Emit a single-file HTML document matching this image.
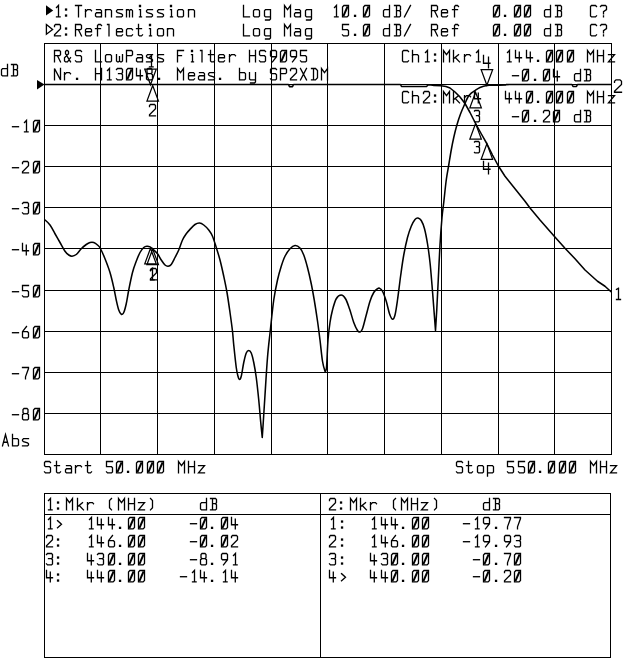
<!DOCTYPE html>
<html><head><meta charset="utf-8"><title>Network analyzer plot</title>
<style>
html,body{margin:0;padding:0;background:#fff;}
body{width:640px;height:659px;overflow:hidden;font-family:"Liberation Mono",monospace;}
svg{display:block;}
</style></head><body>
<svg width="640" height="659" viewBox="0 0 640 659">
<rect width="640" height="659" fill="#fff"/>
<path d="M44.5,43 V455 M100.5,43 V455 M157.5,43 V455 M214.5,43 V455 M271.5,43 V455 M327.5,43 V455 M384.5,43 V455 M441.5,43 V455 M498.5,43 V455 M554.5,43 V455 M611.5,43 V455 M44,43.5 H612 M44,84.5 H612 M44,125.5 H612 M44,166.5 H612 M44,207.5 H612 M44,248.5 H612 M44,290.5 H612 M44,331.5 H612 M44,372.5 H612 M44,413.5 H612 M44,454.5 H612" stroke="#000" stroke-width="1" fill="none" shape-rendering="crispEdges"/>
<path d="M44.5,493 V658 M610.5,493 V658 M320.5,493 V658 M44,493.5 H611 M44,514.5 H611 M44,657.5 H611" stroke="#000" stroke-width="1" fill="none" shape-rendering="crispEdges"/>
<path d="M44.5,219.5 C44.50,219.50 48.25,222.62 50,225 C51.75,227.38 53.33,230.83 55,233.75 C56.67,236.67 58.33,239.58 60,242.5 C61.67,245.42 63.54,249.17 65,251.25 C66.46,253.33 67.58,254.17 68.75,255 C69.92,255.83 70.75,256.33 72,256.25 C73.25,256.17 74.71,255.75 76.25,254.5 C77.79,253.25 79.58,250.42 81.25,248.75 C82.92,247.08 84.79,245.54 86.25,244.5 C87.71,243.46 88.75,242.83 90,242.5 C91.25,242.17 92.50,242.08 93.75,242.5 C95.00,242.92 96.42,244.04 97.5,245 C98.58,245.96 99.00,245.96 100.25,248.25 C101.50,250.54 103.38,254.71 105,258.75 C106.62,262.79 108.54,267.71 110,272.5 C111.46,277.29 112.71,282.92 113.75,287.5 C114.79,292.08 115.42,296.25 116.25,300 C117.08,303.75 117.92,307.62 118.75,310 C119.58,312.38 120.42,313.83 121.25,314.25 C122.08,314.67 122.92,314.25 123.75,312.5 C124.58,310.75 125.42,307.50 126.25,303.75 C127.08,300.00 127.71,295.21 128.75,290 C129.79,284.79 131.25,277.29 132.5,272.5 C133.75,267.71 135.00,264.58 136.25,261.25 C137.50,257.92 138.75,254.79 140,252.5 C141.25,250.21 142.60,248.54 143.75,247.5 C144.90,246.46 145.86,246.35 146.9,246.25 C147.94,246.15 148.97,246.38 150,246.9 C151.03,247.43 151.85,248.26 153.1,249.4 C154.35,250.54 156.14,251.98 157.5,253.75 C158.86,255.52 160.00,258.12 161.25,260 C162.50,261.88 163.86,263.96 165,265 C166.14,266.04 167.06,266.35 168.1,266.25 C169.14,266.15 170.10,265.86 171.25,264.4 C172.40,262.94 173.75,259.90 175,257.5 C176.25,255.10 177.50,252.92 178.75,250 C180.00,247.08 181.25,242.71 182.5,240 C183.75,237.29 185.00,235.52 186.25,233.75 C187.50,231.98 188.54,230.94 190,229.4 C191.46,227.86 193.42,225.57 195,224.5 C196.58,223.43 198.04,222.92 199.5,223 C200.96,223.08 202.21,223.83 203.75,225 C205.29,226.17 207.29,228.12 208.75,230 C210.21,231.88 211.25,233.33 212.5,236.25 C213.75,239.17 215.00,243.54 216.25,247.5 C217.50,251.46 218.75,255.21 220,260 C221.25,264.79 222.58,270.83 223.75,276.25 C224.92,281.67 225.96,286.46 227,292.5 C228.04,298.54 229.08,306.04 230,312.5 C230.92,318.96 231.88,325.83 232.5,331.25 C233.12,336.67 233.12,338.96 233.75,345 C234.38,351.04 235.54,362.29 236.25,367.5 C236.96,372.71 237.46,374.25 238,376.25 C238.54,378.25 238.96,379.50 239.5,379.5 C240.04,379.50 240.54,379.08 241.25,376.25 C241.96,373.42 242.92,366.38 243.75,362.5 C244.58,358.62 245.42,355.00 246.25,353 C247.08,351.00 247.92,350.50 248.75,350.5 C249.58,350.50 250.42,351.00 251.25,353 C252.08,355.00 252.92,358.42 253.75,362.5 C254.58,366.58 255.42,371.25 256.25,377.5 C257.08,383.75 258.00,392.50 258.75,400 C259.50,407.50 260.17,416.25 260.75,422.5 C261.33,428.75 262.25,437.50 262.25,437.5 C262.25,437.50 262.79,429.58 263.25,422.5 C263.71,415.42 264.29,405.83 265,395 C265.71,384.17 266.62,368.17 267.5,357.5 C268.38,346.83 269.21,340.58 270.25,331 C271.29,321.42 272.54,308.50 273.75,300 C274.96,291.50 276.25,285.62 277.5,280 C278.75,274.38 280.00,270.21 281.25,266.25 C282.50,262.29 283.54,259.17 285,256.25 C286.46,253.33 288.33,250.54 290,248.75 C291.67,246.96 293.33,245.62 295,245.5 C296.67,245.38 298.54,246.42 300,248 C301.46,249.58 302.50,251.75 303.75,255 C305.00,258.25 306.25,262.71 307.5,267.5 C308.75,272.29 310.12,278.33 311.25,283.75 C312.38,289.17 313.21,293.79 314.25,300 C315.29,306.21 316.54,314.33 317.5,321 C318.46,327.67 319.17,333.29 320,340 C320.83,346.71 321.67,356.04 322.5,361.25 C323.33,366.46 325.00,371.25 325,371.25 C325.00,371.25 326.00,372.71 326.5,367.5 C327.00,362.29 327.42,347.50 328,340 C328.58,332.50 329.25,327.50 330,322.5 C330.75,317.50 331.46,313.96 332.5,310 C333.54,306.04 334.79,301.25 336.25,298.75 C337.71,296.25 339.71,295.00 341.25,295 C342.79,295.00 344.12,296.46 345.5,298.75 C346.88,301.04 348.12,304.79 349.5,308.75 C350.88,312.71 352.42,318.88 353.75,322.5 C355.08,326.12 356.46,328.92 357.5,330.5 C358.54,332.08 359.17,332.29 360,332 C360.83,331.71 361.46,331.58 362.5,328.75 C363.54,325.92 365.00,319.58 366.25,315 C367.50,310.42 368.75,305.00 370,301.25 C371.25,297.50 372.50,294.58 373.75,292.5 C375.00,290.42 376.54,289.46 377.5,288.75 C378.46,288.04 378.67,287.83 379.5,288.25 C380.33,288.67 381.38,289.08 382.5,291.25 C383.62,293.42 385.08,297.50 386.25,301.25 C387.42,305.00 388.46,310.75 389.5,313.75 C390.54,316.75 391.58,319.04 392.5,319.25 C393.42,319.46 394.17,318.21 395,315 C395.83,311.79 396.54,306.67 397.5,300 C398.46,293.33 399.71,282.50 400.75,275 C401.79,267.50 402.62,261.25 403.75,255 C404.88,248.75 406.25,242.29 407.5,237.5 C408.75,232.71 410.00,229.25 411.25,226.25 C412.50,223.25 413.88,220.88 415,219.5 C416.12,218.12 416.96,217.83 418,218 C419.04,218.17 420.17,218.71 421.25,220.5 C422.33,222.29 423.46,224.88 424.5,228.75 C425.54,232.62 426.58,238.12 427.5,243.75 C428.42,249.38 429.25,255.62 430,262.5 C430.75,269.38 431.38,277.50 432,285 C432.62,292.50 433.17,299.92 433.75,307.5 C434.33,315.08 435.50,330.50 435.5,330.5 C435.50,330.50 436.29,318.42 436.75,310 C437.21,301.58 437.71,290.83 438.25,280 C438.79,269.17 439.38,255.42 440,245 C440.62,234.58 441.38,224.58 442,217.5 C442.62,210.42 443.04,208.75 443.75,202.5 C444.46,196.25 445.42,186.25 446.25,180 C447.08,173.75 447.92,170.00 448.75,165 C449.58,160.00 450.42,154.58 451.25,150 C452.08,145.42 452.81,141.67 453.75,137.5 C454.69,133.33 455.76,128.96 456.9,125 C458.04,121.04 459.25,117.33 460.6,113.75 C461.95,110.17 463.75,106.33 465,103.5 C466.25,100.67 467.06,98.48 468.1,96.75 C469.14,95.02 470.10,94.12 471.25,93.1 C472.40,92.07 473.54,91.53 475,90.6 C476.46,89.67 478.02,88.37 480,87.5 C481.98,86.63 484.57,85.77 486.9,85.4 C489.23,85.03 490.82,85.37 494,85.3 C497.18,85.23 506.00,85.00 506,85" stroke="#000" stroke-width="1.55" fill="none" stroke-linejoin="round"/>
<path d="M44.5,84.5 L288.5,84.5 L289.5,86.6 L292.5,86.6 L293.5,84.5 L400.5,84.5 L401.5,86.5 L426.5,86.5 L428,85 L431,85 L434,85.5 L441,85.7 L446,86.6 L450,88 L455,92 L460,97 L465,103.5 L470,112.5 L475.6,123.5 L481.25,133.75 L486.9,143.75 L492.5,155 L498.1,165.5 L505,176.25 L515,188.75 L525,201.25 L530,208 L540,220 L554.25,236.25 L565,248.25 L575,258.75 L585,270 L597.5,281.25 L605,286.25 L611.25,292" stroke="#000" stroke-width="1.55" fill="none" stroke-linejoin="round"/>
<path d="M506,84.6 L572,84.5 L573,86.4 L576.5,86.4 L577.5,84.5 L611.5,84.5" stroke="#000" stroke-width="1.55" fill="none" stroke-linejoin="round"/>
<path d="M150.5,84.8 L144.75,69.2 H156.25 Z M152.7,85.5 L146.95,101.1 H158.45 Z M475.6,123.5 L469.85,139.1 H481.35 Z M486.9,143.75 L481.15,159.35 H492.65 Z M150.5,248.3 L144.75,263.9 H156.25 Z M152.7,249 L146.95,264.6 H158.45 Z M475.6,92.3 L469.85,107.9 H481.35 Z M486.9,85.2 L481.15,69.6 H492.65 Z" stroke="#000" stroke-width="1.25" fill="none"/>
<path d="M37,80 L44.5,84.5 L37,89.5 Z" fill="#000"/>
<path d="M46,5.2 L53.2,10.4 L46,15.6 Z" fill="#000"/>
<path d="M46.4,24.6 L52.6,29.4 L46.4,34.2 Z" fill="none" stroke="#000" stroke-width="1.3"/>
<g stroke="#000" stroke-width="1.3" fill="none" stroke-linecap="square" stroke-linejoin="miter">
<path transform="translate(54.5,5.5) scale(1,1.036)" d="M2,2 L4,0 V11 M2,11 H5.6"/>
<path transform="translate(75.5,5.5) scale(1,1.036)" d="M0,0 H6 M3,0 V11"/>
<path transform="translate(85.5,5.5) scale(1,1.036)" d="M0,4 V11 M0,6 L2,4 H5 L6,5"/>
<path transform="translate(95.5,5.5) scale(1,1.036)" d="M1,4 H5 L6,5 V11 M6,7 H1 L0,8 V10 L1,11 H5 L6,10"/>
<path transform="translate(105.5,5.5) scale(1,1.036)" d="M0,4 V11 M0,5 L1,4 H5 L6,5 V11"/>
<path transform="translate(116.5,5.5) scale(1,1.036)" d="M6,4 H1 L0,5 V6 L1,7 L5,8 L6,9 V10 L5,11 H0"/>
<path transform="translate(126.5,5.5) scale(1,1.036)" d="M0,4 V11 M0,5 L1,4 H2 L3,5 V11 M3,5 L4,4 H5 L6,5 V11"/>
<path transform="translate(136.5,5.5) scale(1,1.036)" d="M4,0 V1 M3,0 V1 M3,4 H4 V11 M3,11 H5"/>
<path transform="translate(146.5,5.5) scale(1,1.036)" d="M6,4 H1 L0,5 V6 L1,7 L5,8 L6,9 V10 L5,11 H0"/>
<path transform="translate(157.5,5.5) scale(1,1.036)" d="M6,4 H1 L0,5 V6 L1,7 L5,8 L6,9 V10 L5,11 H0"/>
<path transform="translate(167.5,5.5) scale(1,1.036)" d="M4,0 V1 M3,0 V1 M3,4 H4 V11 M3,11 H5"/>
<path transform="translate(177.5,5.5) scale(1,1.036)" d="M1,4 H5 L6,5 V10 L5,11 H1 L0,10 V5 Z"/>
<path transform="translate(188.5,5.5) scale(1,1.036)" d="M0,4 V11 M0,5 L1,4 H5 L6,5 V11"/>
<path transform="translate(243.5,5.5) scale(1,1.036)" d="M0,0 V11 H6"/>
<path transform="translate(253.5,5.5) scale(1,1.036)" d="M1,4 H5 L6,5 V10 L5,11 H1 L0,10 V5 Z"/>
<path transform="translate(264.5,5.5) scale(1,1.036)" d="M6,4 H1 L0,5 V10 L1,11 H6 M6,4 V13 L5,14 H1"/>

<path transform="translate(284.5,5.5) scale(1,1.036)" d="M0,11 V0 L3,4 L6,0 V11"/>
<path transform="translate(294.5,5.5) scale(1,1.036)" d="M1,4 H5 L6,5 V11 M6,7 H1 L0,8 V10 L1,11 H5 L6,10"/>
<path transform="translate(305.5,5.5) scale(1,1.036)" d="M6,4 H1 L0,5 V10 L1,11 H6 M6,4 V13 L5,14 H1"/>
<path transform="translate(332.5,5.5) scale(1,1.036)" d="M2,2 L4,0 V11 M2,11 H5.6"/>
<path transform="translate(342.5,5.5) scale(1,1.036)" d="M1.4,0 H6 V9.6 L4.6,11 H0 V1.4 Z"/><path transform="translate(342.5,5.5) scale(1,1.036)" stroke-width="2" stroke-linecap="butt" d="M0.9,10.2 L5.1,0.8"/>
<path transform="translate(363.5,5.5) scale(1,1.036)" d="M1.4,0 H6 V9.6 L4.6,11 H0 V1.4 Z"/><path transform="translate(363.5,5.5) scale(1,1.036)" stroke-width="2" stroke-linecap="butt" d="M0.9,10.2 L5.1,0.8"/>

<path transform="translate(383.5,5.5) scale(1,1.036)" d="M6,0 V11 H1 L0,10 V5 L1,4 H6"/>
<path transform="translate(394.5,5.5) scale(1,1.036)" d="M2,0 V11 M0,11 H5 L6,10 V6 L5,5 H2 M5,5 L6,4 V1 L5,0 H0"/>
<path transform="translate(404.5,5.5) scale(1,1.036)" d="M0,11 L6,0"/>
<path transform="translate(431.5,5.5) scale(1,1.036)" d="M0,11 V0 H5 L6,1 V4 L5,5 H0 M3,5 L6,11"/>
<path transform="translate(441.5,5.5) scale(1,1.036)" d="M0,7 H6 V5 L5,4 H1 L0,5 V10 L1,11 H5 L6,10"/>
<path transform="translate(452.5,5.5) scale(1,1.036)" d="M6,1 L5,0 H3 L2,1 V11 M0,4 H5"/>
<path transform="translate(493.5,5.5) scale(1,1.036)" d="M1.4,0 H6 V9.6 L4.6,11 H0 V1.4 Z"/><path transform="translate(493.5,5.5) scale(1,1.036)" stroke-width="2" stroke-linecap="butt" d="M0.9,10.2 L5.1,0.8"/>
<path transform="translate(514.5,5.5) scale(1,1.036)" d="M1.4,0 H6 V9.6 L4.6,11 H0 V1.4 Z"/><path transform="translate(514.5,5.5) scale(1,1.036)" stroke-width="2" stroke-linecap="butt" d="M0.9,10.2 L5.1,0.8"/>
<path transform="translate(524.5,5.5) scale(1,1.036)" d="M1.4,0 H6 V9.6 L4.6,11 H0 V1.4 Z"/><path transform="translate(524.5,5.5) scale(1,1.036)" stroke-width="2" stroke-linecap="butt" d="M0.9,10.2 L5.1,0.8"/>

<path transform="translate(544.5,5.5) scale(1,1.036)" d="M6,0 V11 H1 L0,10 V5 L1,4 H6"/>
<path transform="translate(555.5,5.5) scale(1,1.036)" d="M2,0 V11 M0,11 H5 L6,10 V6 L5,5 H2 M5,5 L6,4 V1 L5,0 H0"/>
<path transform="translate(590.5,5.5) scale(1,1.036)" d="M6,1 L5,0 H1 L0,1 V10 L1,11 H5 L6,10"/>
<path transform="translate(600.5,5.5) scale(1,1.036)" d="M0,1 L1,0 H5 L6,1 V4 L3,6 V8 M3,10 V11"/>
<path transform="translate(54.5,24.5) scale(1,1.036)" d="M0,2 V1 L1,0 H5 L6,1 V4 L0,10 V11 H6"/>
<path transform="translate(75.5,24.5) scale(1,1.036)" d="M0,11 V0 H5 L6,1 V4 L5,5 H0 M3,5 L6,11"/>
<path transform="translate(85.5,24.5) scale(1,1.036)" d="M0,7 H6 V5 L5,4 H1 L0,5 V10 L1,11 H5 L6,10"/>
<path transform="translate(95.5,24.5) scale(1,1.036)" d="M6,1 L5,0 H3 L2,1 V11 M0,4 H5"/>
<path transform="translate(105.5,24.5) scale(1,1.036)" d="M2,0 H3.5 V11"/>
<path transform="translate(116.5,24.5) scale(1,1.036)" d="M0,7 H6 V5 L5,4 H1 L0,5 V10 L1,11 H5 L6,10"/>
<path transform="translate(126.5,24.5) scale(1,1.036)" d="M6,5 L5,4 H1 L0,5 V10 L1,11 H5 L6,10"/>
<path transform="translate(136.5,24.5) scale(1,1.036)" d="M2,0 V10 L3,11 H5 L6,10 M0,4 H5"/>
<path transform="translate(146.5,24.5) scale(1,1.036)" d="M4,0 V1 M3,0 V1 M3,4 H4 V11 M3,11 H5"/>
<path transform="translate(157.5,24.5) scale(1,1.036)" d="M1,4 H5 L6,5 V10 L5,11 H1 L0,10 V5 Z"/>
<path transform="translate(167.5,24.5) scale(1,1.036)" d="M0,4 V11 M0,5 L1,4 H5 L6,5 V11"/>
<path transform="translate(243.5,24.5) scale(1,1.036)" d="M0,0 V11 H6"/>
<path transform="translate(253.5,24.5) scale(1,1.036)" d="M1,4 H5 L6,5 V10 L5,11 H1 L0,10 V5 Z"/>
<path transform="translate(264.5,24.5) scale(1,1.036)" d="M6,4 H1 L0,5 V10 L1,11 H6 M6,4 V13 L5,14 H1"/>

<path transform="translate(284.5,24.5) scale(1,1.036)" d="M0,11 V0 L3,4 L6,0 V11"/>
<path transform="translate(294.5,24.5) scale(1,1.036)" d="M1,4 H5 L6,5 V11 M6,7 H1 L0,8 V10 L1,11 H5 L6,10"/>
<path transform="translate(305.5,24.5) scale(1,1.036)" d="M6,4 H1 L0,5 V10 L1,11 H6 M6,4 V13 L5,14 H1"/>

<path transform="translate(342.5,24.5) scale(1,1.036)" d="M6,0 H0 V5 H5 L6,6 V10 L5,11 H1 L0,10"/>
<path transform="translate(363.5,24.5) scale(1,1.036)" d="M1.4,0 H6 V9.6 L4.6,11 H0 V1.4 Z"/><path transform="translate(363.5,24.5) scale(1,1.036)" stroke-width="2" stroke-linecap="butt" d="M0.9,10.2 L5.1,0.8"/>

<path transform="translate(383.5,24.5) scale(1,1.036)" d="M6,0 V11 H1 L0,10 V5 L1,4 H6"/>
<path transform="translate(394.5,24.5) scale(1,1.036)" d="M2,0 V11 M0,11 H5 L6,10 V6 L5,5 H2 M5,5 L6,4 V1 L5,0 H0"/>
<path transform="translate(404.5,24.5) scale(1,1.036)" d="M0,11 L6,0"/>
<path transform="translate(431.5,24.5) scale(1,1.036)" d="M0,11 V0 H5 L6,1 V4 L5,5 H0 M3,5 L6,11"/>
<path transform="translate(441.5,24.5) scale(1,1.036)" d="M0,7 H6 V5 L5,4 H1 L0,5 V10 L1,11 H5 L6,10"/>
<path transform="translate(452.5,24.5) scale(1,1.036)" d="M6,1 L5,0 H3 L2,1 V11 M0,4 H5"/>
<path transform="translate(493.5,24.5) scale(1,1.036)" d="M1.4,0 H6 V9.6 L4.6,11 H0 V1.4 Z"/><path transform="translate(493.5,24.5) scale(1,1.036)" stroke-width="2" stroke-linecap="butt" d="M0.9,10.2 L5.1,0.8"/>
<path transform="translate(514.5,24.5) scale(1,1.036)" d="M1.4,0 H6 V9.6 L4.6,11 H0 V1.4 Z"/><path transform="translate(514.5,24.5) scale(1,1.036)" stroke-width="2" stroke-linecap="butt" d="M0.9,10.2 L5.1,0.8"/>
<path transform="translate(524.5,24.5) scale(1,1.036)" d="M1.4,0 H6 V9.6 L4.6,11 H0 V1.4 Z"/><path transform="translate(524.5,24.5) scale(1,1.036)" stroke-width="2" stroke-linecap="butt" d="M0.9,10.2 L5.1,0.8"/>

<path transform="translate(544.5,24.5) scale(1,1.036)" d="M6,0 V11 H1 L0,10 V5 L1,4 H6"/>
<path transform="translate(555.5,24.5) scale(1,1.036)" d="M2,0 V11 M0,11 H5 L6,10 V6 L5,5 H2 M5,5 L6,4 V1 L5,0 H0"/>
<path transform="translate(590.5,24.5) scale(1,1.036)" d="M6,1 L5,0 H1 L0,1 V10 L1,11 H5 L6,10"/>
<path transform="translate(600.5,24.5) scale(1,1.036)" d="M0,1 L1,0 H5 L6,1 V4 L3,6 V8 M3,10 V11"/>
<path transform="translate(54.5,50.5) scale(1,1.036)" d="M0,11 V0 H5 L6,1 V4 L5,5 H0 M3,5 L6,11"/>
<path transform="translate(64.5,50.5) scale(1,1.036)" d="M6,11 L1,3 V1 L2,0 H3 L4,1 V3 L0,7 V10 L1,11 H3 L6,7"/>
<path transform="translate(75.5,50.5) scale(1,1.036)" d="M6,1 L5,0 H1 L0,1 V4 L1,5 H5 L6,6 V10 L5,11 H1 L0,10"/>

<path transform="translate(95.5,50.5) scale(1,1.036)" d="M0,0 V11 H6"/>
<path transform="translate(105.5,50.5) scale(1,1.036)" d="M1,4 H5 L6,5 V10 L5,11 H1 L0,10 V5 Z"/>
<path transform="translate(116.5,50.5) scale(1,1.036)" d="M0,4 V10 L1,11 H2 L3,10 V6 M3,10 L4,11 H5 L6,10 V4"/>
<path transform="translate(126.5,50.5) scale(1,1.036)" d="M0,11 V0 H5 L6,1 V4 L5,5 H0"/>
<path transform="translate(136.5,50.5) scale(1,1.036)" d="M1,4 H5 L6,5 V11 M6,7 H1 L0,8 V10 L1,11 H5 L6,10"/>
<path transform="translate(146.5,50.5) scale(1,1.036)" d="M6,4 H1 L0,5 V6 L1,7 L5,8 L6,9 V10 L5,11 H0"/>
<path transform="translate(157.5,50.5) scale(1,1.036)" d="M6,4 H1 L0,5 V6 L1,7 L5,8 L6,9 V10 L5,11 H0"/>

<path transform="translate(177.5,50.5) scale(1,1.036)" d="M6,0 H0 V11 M0,5 H4"/>
<path transform="translate(188.5,50.5) scale(1,1.036)" d="M4,0 V1 M3,0 V1 M3,4 H4 V11 M3,11 H5"/>
<path transform="translate(198.5,50.5) scale(1,1.036)" d="M2,0 H3.5 V11"/>
<path transform="translate(208.5,50.5) scale(1,1.036)" d="M2,0 V10 L3,11 H5 L6,10 M0,4 H5"/>
<path transform="translate(218.5,50.5) scale(1,1.036)" d="M0,7 H6 V5 L5,4 H1 L0,5 V10 L1,11 H5 L6,10"/>
<path transform="translate(229.5,50.5) scale(1,1.036)" d="M0,4 V11 M0,6 L2,4 H5 L6,5"/>

<path transform="translate(249.5,50.5) scale(1,1.036)" d="M0,0 V11 M6,0 V11 M0,5 H6"/>
<path transform="translate(259.5,50.5) scale(1,1.036)" d="M6,1 L5,0 H1 L0,1 V4 L1,5 H5 L6,6 V10 L5,11 H1 L0,10"/>
<path transform="translate(270.5,50.5) scale(1,1.036)" d="M5,6 H1 L0,5 V1 L1,0 H5 L6,1 V6 L2,11"/>
<path transform="translate(280.5,50.5) scale(1,1.036)" d="M1.4,0 H6 V9.6 L4.6,11 H0 V1.4 Z"/><path transform="translate(280.5,50.5) scale(1,1.036)" stroke-width="2" stroke-linecap="butt" d="M0.9,10.2 L5.1,0.8"/>
<path transform="translate(290.5,50.5) scale(1,1.036)" d="M5,6 H1 L0,5 V1 L1,0 H5 L6,1 V6 L2,11"/>
<path transform="translate(300.5,50.5) scale(1,1.036)" d="M6,0 H0 V5 H5 L6,6 V10 L5,11 H1 L0,10"/>
<path transform="translate(54.5,68.5) scale(1,1.036)" d="M0,11 V0 L6,11 V0"/>
<path transform="translate(64.5,68.5) scale(1,1.036)" d="M0,4 V11 M0,6 L2,4 H5 L6,5"/>

<path transform="translate(95.5,68.5) scale(1,1.036)" d="M0,0 V11 M6,0 V11 M0,5 H6"/>
<path transform="translate(105.5,68.5) scale(1,1.036)" d="M2,2 L4,0 V11 M2,11 H5.6"/>
<path transform="translate(116.5,68.5) scale(1,1.036)" d="M0,1 L1,0 H5 L6,1 V4 L5,5 H2 M5,5 L6,6 V10 L5,11 H1 L0,10"/>
<path transform="translate(126.5,68.5) scale(1,1.036)" d="M1.4,0 H6 V9.6 L4.6,11 H0 V1.4 Z"/><path transform="translate(126.5,68.5) scale(1,1.036)" stroke-width="2" stroke-linecap="butt" d="M0.9,10.2 L5.1,0.8"/>
<path transform="translate(136.5,68.5) scale(1,1.036)" d="M0,0 V7 H6 M3.8,1.5 V11"/>
<path transform="translate(146.5,68.5) scale(1,1.036)" d="M1.5,0 H4.5 L5.5,1 V4 L4.5,5 H1.5 L0.5,4 V1 Z M1.5,5 L0,6 V10 L1,11 H5 L6,10 V6 L4.5,5"/>

<path transform="translate(177.5,68.5) scale(1,1.036)" d="M0,11 V0 L3,4 L6,0 V11"/>
<path transform="translate(188.5,68.5) scale(1,1.036)" d="M0,7 H6 V5 L5,4 H1 L0,5 V10 L1,11 H5 L6,10"/>
<path transform="translate(198.5,68.5) scale(1,1.036)" d="M1,4 H5 L6,5 V11 M6,7 H1 L0,8 V10 L1,11 H5 L6,10"/>
<path transform="translate(208.5,68.5) scale(1,1.036)" d="M6,4 H1 L0,5 V6 L1,7 L5,8 L6,9 V10 L5,11 H0"/>

<path transform="translate(239.5,68.5) scale(1,1.036)" d="M0,0 V11 H5 L6,10 V5 L5,4 H0"/>
<path transform="translate(249.5,68.5) scale(1,1.036)" d="M0,4 V10 L1,11 H6 M6,4 V13 L5,14 H1"/>

<path transform="translate(270.5,68.5) scale(1,1.036)" d="M6,1 L5,0 H1 L0,1 V4 L1,5 H5 L6,6 V10 L5,11 H1 L0,10"/>
<path transform="translate(280.5,68.5) scale(1,1.036)" d="M0,11 V0 H5 L6,1 V4 L5,5 H0"/>
<path transform="translate(290.5,68.5) scale(1,1.036)" d="M0,2 V1 L1,0 H5 L6,1 V4 L0,10 V11 H6"/>
<path transform="translate(300.5,68.5) scale(1,1.036)" d="M0,0 L6,11 M6,0 L0,11"/>
<path transform="translate(311.5,68.5) scale(1,1.036)" d="M2,0 V11 M0,11 H4 L6,9 V2 L4,0 H0"/>
<path transform="translate(321.5,68.5) scale(1,1.036)" d="M0,11 V0 L3,4 L6,0 V11"/>
<path transform="translate(402.5,50.5) scale(1,1.036)" d="M6,1 L5,0 H1 L0,1 V10 L1,11 H5 L6,10"/>
<path transform="translate(412.5,50.5) scale(1,1.036)" d="M0,0 V11 M0,5 L1,4 H5 L6,5 V11"/>
<path transform="translate(423.5,50.5) scale(1,1.036)" d="M2,2 L4,0 V11 M2,11 H5.6"/>
<path transform="translate(443.5,50.5) scale(1,1.036)" d="M0,11 V0 L3,4 L6,0 V11"/>
<path transform="translate(453.5,50.5) scale(1,1.036)" d="M0,0 V11 M5,4 L0,8 M2,7 L6,11"/>
<path transform="translate(464.5,50.5) scale(1,1.036)" d="M0,4 V11 M0,6 L2,4 H5 L6,5"/>
<path transform="translate(474.5,50.5) scale(1,1.036)" d="M2,2 L4,0 V11 M2,11 H5.6"/>
<path transform="translate(505.5,50.5) scale(1,1.036)" d="M2,2 L4,0 V11 M2,11 H5.6"/>
<path transform="translate(515.5,50.5) scale(1,1.036)" d="M0,0 V7 H6 M3.8,1.5 V11"/>
<path transform="translate(526.5,50.5) scale(1,1.036)" d="M0,0 V7 H6 M3.8,1.5 V11"/>
<path transform="translate(546.5,50.5) scale(1,1.036)" d="M1.4,0 H6 V9.6 L4.6,11 H0 V1.4 Z"/><path transform="translate(546.5,50.5) scale(1,1.036)" stroke-width="2" stroke-linecap="butt" d="M0.9,10.2 L5.1,0.8"/>
<path transform="translate(556.5,50.5) scale(1,1.036)" d="M1.4,0 H6 V9.6 L4.6,11 H0 V1.4 Z"/><path transform="translate(556.5,50.5) scale(1,1.036)" stroke-width="2" stroke-linecap="butt" d="M0.9,10.2 L5.1,0.8"/>
<path transform="translate(567.5,50.5) scale(1,1.036)" d="M1.4,0 H6 V9.6 L4.6,11 H0 V1.4 Z"/><path transform="translate(567.5,50.5) scale(1,1.036)" stroke-width="2" stroke-linecap="butt" d="M0.9,10.2 L5.1,0.8"/>

<path transform="translate(587.5,50.5) scale(1,1.036)" d="M0,11 V0 L3,4 L6,0 V11"/>
<path transform="translate(597.5,50.5) scale(1,1.036)" d="M0,0 V11 M6,0 V11 M0,5 H6"/>
<path transform="translate(608.5,50.5) scale(1,1.036)" d="M0,4 H6 L0,11 H6"/>
<path transform="translate(512.5,69.5) scale(1,1.036)" d="M0,6 H6"/>
<path transform="translate(522.5,69.5) scale(1,1.036)" d="M1.4,0 H6 V9.6 L4.6,11 H0 V1.4 Z"/><path transform="translate(522.5,69.5) scale(1,1.036)" stroke-width="2" stroke-linecap="butt" d="M0.9,10.2 L5.1,0.8"/>
<path transform="translate(543.5,69.5) scale(1,1.036)" d="M1.4,0 H6 V9.6 L4.6,11 H0 V1.4 Z"/><path transform="translate(543.5,69.5) scale(1,1.036)" stroke-width="2" stroke-linecap="butt" d="M0.9,10.2 L5.1,0.8"/>
<path transform="translate(553.5,69.5) scale(1,1.036)" d="M0,0 V7 H6 M3.8,1.5 V11"/>

<path transform="translate(574.5,69.5) scale(1,1.036)" d="M6,0 V11 H1 L0,10 V5 L1,4 H6"/>
<path transform="translate(584.5,69.5) scale(1,1.036)" d="M2,0 V11 M0,11 H5 L6,10 V6 L5,5 H2 M5,5 L6,4 V1 L5,0 H0"/>
<path transform="translate(402.5,91.5) scale(1,1.036)" d="M6,1 L5,0 H1 L0,1 V10 L1,11 H5 L6,10"/>
<path transform="translate(412.5,91.5) scale(1,1.036)" d="M0,0 V11 M0,5 L1,4 H5 L6,5 V11"/>
<path transform="translate(423.5,91.5) scale(1,1.036)" d="M0,2 V1 L1,0 H5 L6,1 V4 L0,10 V11 H6"/>
<path transform="translate(443.5,91.5) scale(1,1.036)" d="M0,11 V0 L3,4 L6,0 V11"/>
<path transform="translate(453.5,91.5) scale(1,1.036)" d="M0,0 V11 M5,4 L0,8 M2,7 L6,11"/>
<path transform="translate(464.5,91.5) scale(1,1.036)" d="M0,4 V11 M0,6 L2,4 H5 L6,5"/>
<path transform="translate(474.5,91.5) scale(1,1.036)" d="M0,0 V7 H6 M3.8,1.5 V11"/>
<path transform="translate(505.5,91.5) scale(1,1.036)" d="M0,0 V7 H6 M3.8,1.5 V11"/>
<path transform="translate(515.5,91.5) scale(1,1.036)" d="M0,0 V7 H6 M3.8,1.5 V11"/>
<path transform="translate(526.5,91.5) scale(1,1.036)" d="M1.4,0 H6 V9.6 L4.6,11 H0 V1.4 Z"/><path transform="translate(526.5,91.5) scale(1,1.036)" stroke-width="2" stroke-linecap="butt" d="M0.9,10.2 L5.1,0.8"/>
<path transform="translate(546.5,91.5) scale(1,1.036)" d="M1.4,0 H6 V9.6 L4.6,11 H0 V1.4 Z"/><path transform="translate(546.5,91.5) scale(1,1.036)" stroke-width="2" stroke-linecap="butt" d="M0.9,10.2 L5.1,0.8"/>
<path transform="translate(556.5,91.5) scale(1,1.036)" d="M1.4,0 H6 V9.6 L4.6,11 H0 V1.4 Z"/><path transform="translate(556.5,91.5) scale(1,1.036)" stroke-width="2" stroke-linecap="butt" d="M0.9,10.2 L5.1,0.8"/>
<path transform="translate(567.5,91.5) scale(1,1.036)" d="M1.4,0 H6 V9.6 L4.6,11 H0 V1.4 Z"/><path transform="translate(567.5,91.5) scale(1,1.036)" stroke-width="2" stroke-linecap="butt" d="M0.9,10.2 L5.1,0.8"/>

<path transform="translate(587.5,91.5) scale(1,1.036)" d="M0,11 V0 L3,4 L6,0 V11"/>
<path transform="translate(597.5,91.5) scale(1,1.036)" d="M0,0 V11 M6,0 V11 M0,5 H6"/>
<path transform="translate(608.5,91.5) scale(1,1.036)" d="M0,4 H6 L0,11 H6"/>
<path transform="translate(512.5,110.5) scale(1,1.036)" d="M0,6 H6"/>
<path transform="translate(522.5,110.5) scale(1,1.036)" d="M1.4,0 H6 V9.6 L4.6,11 H0 V1.4 Z"/><path transform="translate(522.5,110.5) scale(1,1.036)" stroke-width="2" stroke-linecap="butt" d="M0.9,10.2 L5.1,0.8"/>
<path transform="translate(543.5,110.5) scale(1,1.036)" d="M0,2 V1 L1,0 H5 L6,1 V4 L0,10 V11 H6"/>
<path transform="translate(553.5,110.5) scale(1,1.036)" d="M1.4,0 H6 V9.6 L4.6,11 H0 V1.4 Z"/><path transform="translate(553.5,110.5) scale(1,1.036)" stroke-width="2" stroke-linecap="butt" d="M0.9,10.2 L5.1,0.8"/>

<path transform="translate(574.5,110.5) scale(1,1.036)" d="M6,0 V11 H1 L0,10 V5 L1,4 H6"/>
<path transform="translate(584.5,110.5) scale(1,1.036)" d="M2,0 V11 M0,11 H5 L6,10 V6 L5,5 H2 M5,5 L6,4 V1 L5,0 H0"/>
<path transform="translate(1.5,64.5) scale(1,1.036)" d="M6,0 V11 H1 L0,10 V5 L1,4 H6"/>
<path transform="translate(11.5,64.5) scale(1,1.036)" d="M2,0 V11 M0,11 H5 L6,10 V6 L5,5 H2 M5,5 L6,4 V1 L5,0 H0"/>
<path transform="translate(12.5,120.5) scale(1,1.036)" d="M0,6 H6"/>
<path transform="translate(22.5,120.5) scale(1,1.036)" d="M2,2 L4,0 V11 M2,11 H5.6"/>
<path transform="translate(33.5,120.5) scale(1,1.036)" d="M1.4,0 H6 V9.6 L4.6,11 H0 V1.4 Z"/><path transform="translate(33.5,120.5) scale(1,1.036)" stroke-width="2" stroke-linecap="butt" d="M0.9,10.2 L5.1,0.8"/>
<path transform="translate(12.5,161.5) scale(1,1.036)" d="M0,6 H6"/>
<path transform="translate(22.5,161.5) scale(1,1.036)" d="M0,2 V1 L1,0 H5 L6,1 V4 L0,10 V11 H6"/>
<path transform="translate(33.5,161.5) scale(1,1.036)" d="M1.4,0 H6 V9.6 L4.6,11 H0 V1.4 Z"/><path transform="translate(33.5,161.5) scale(1,1.036)" stroke-width="2" stroke-linecap="butt" d="M0.9,10.2 L5.1,0.8"/>
<path transform="translate(12.5,202.5) scale(1,1.036)" d="M0,6 H6"/>
<path transform="translate(22.5,202.5) scale(1,1.036)" d="M0,1 L1,0 H5 L6,1 V4 L5,5 H2 M5,5 L6,6 V10 L5,11 H1 L0,10"/>
<path transform="translate(33.5,202.5) scale(1,1.036)" d="M1.4,0 H6 V9.6 L4.6,11 H0 V1.4 Z"/><path transform="translate(33.5,202.5) scale(1,1.036)" stroke-width="2" stroke-linecap="butt" d="M0.9,10.2 L5.1,0.8"/>
<path transform="translate(12.5,243.5) scale(1,1.036)" d="M0,6 H6"/>
<path transform="translate(22.5,243.5) scale(1,1.036)" d="M0,0 V7 H6 M3.8,1.5 V11"/>
<path transform="translate(33.5,243.5) scale(1,1.036)" d="M1.4,0 H6 V9.6 L4.6,11 H0 V1.4 Z"/><path transform="translate(33.5,243.5) scale(1,1.036)" stroke-width="2" stroke-linecap="butt" d="M0.9,10.2 L5.1,0.8"/>
<path transform="translate(12.5,285.5) scale(1,1.036)" d="M0,6 H6"/>
<path transform="translate(22.5,285.5) scale(1,1.036)" d="M6,0 H0 V5 H5 L6,6 V10 L5,11 H1 L0,10"/>
<path transform="translate(33.5,285.5) scale(1,1.036)" d="M1.4,0 H6 V9.6 L4.6,11 H0 V1.4 Z"/><path transform="translate(33.5,285.5) scale(1,1.036)" stroke-width="2" stroke-linecap="butt" d="M0.9,10.2 L5.1,0.8"/>
<path transform="translate(12.5,326.5) scale(1,1.036)" d="M0,6 H6"/>
<path transform="translate(22.5,326.5) scale(1,1.036)" d="M4,0 L0,5 V10 L1,11 H5 L6,10 V6 L5,5 H1"/>
<path transform="translate(33.5,326.5) scale(1,1.036)" d="M1.4,0 H6 V9.6 L4.6,11 H0 V1.4 Z"/><path transform="translate(33.5,326.5) scale(1,1.036)" stroke-width="2" stroke-linecap="butt" d="M0.9,10.2 L5.1,0.8"/>
<path transform="translate(12.5,367.5) scale(1,1.036)" d="M0,6 H6"/>
<path transform="translate(22.5,367.5) scale(1,1.036)" d="M0,0 H6 V1 L3,9 V11"/>
<path transform="translate(33.5,367.5) scale(1,1.036)" d="M1.4,0 H6 V9.6 L4.6,11 H0 V1.4 Z"/><path transform="translate(33.5,367.5) scale(1,1.036)" stroke-width="2" stroke-linecap="butt" d="M0.9,10.2 L5.1,0.8"/>
<path transform="translate(12.5,408.5) scale(1,1.036)" d="M0,6 H6"/>
<path transform="translate(22.5,408.5) scale(1,1.036)" d="M1.5,0 H4.5 L5.5,1 V4 L4.5,5 H1.5 L0.5,4 V1 Z M1.5,5 L0,6 V10 L1,11 H5 L6,10 V6 L4.5,5"/>
<path transform="translate(33.5,408.5) scale(1,1.036)" d="M1.4,0 H6 V9.6 L4.6,11 H0 V1.4 Z"/><path transform="translate(33.5,408.5) scale(1,1.036)" stroke-width="2" stroke-linecap="butt" d="M0.9,10.2 L5.1,0.8"/>
<path transform="translate(2.5,434.5) scale(1,1.036)" d="M0,11 L3,0 L6,11 M1.2,7.5 H4.8"/>
<path transform="translate(12.5,434.5) scale(1,1.036)" d="M0,0 V11 H5 L6,10 V5 L5,4 H0"/>
<path transform="translate(22.5,434.5) scale(1,1.036)" d="M6,4 H1 L0,5 V6 L1,7 L5,8 L6,9 V10 L5,11 H0"/>
<path transform="translate(44.5,461.5) scale(1,1.036)" d="M6,1 L5,0 H1 L0,1 V4 L1,5 H5 L6,6 V10 L5,11 H1 L0,10"/>
<path transform="translate(54.5,461.5) scale(1,1.036)" d="M2,0 V10 L3,11 H5 L6,10 M0,4 H5"/>
<path transform="translate(65.5,461.5) scale(1,1.036)" d="M1,4 H5 L6,5 V11 M6,7 H1 L0,8 V10 L1,11 H5 L6,10"/>
<path transform="translate(75.5,461.5) scale(1,1.036)" d="M0,4 V11 M0,6 L2,4 H5 L6,5"/>
<path transform="translate(85.5,461.5) scale(1,1.036)" d="M2,0 V10 L3,11 H5 L6,10 M0,4 H5"/>

<path transform="translate(106.5,461.5) scale(1,1.036)" d="M6,0 H0 V5 H5 L6,6 V10 L5,11 H1 L0,10"/>
<path transform="translate(116.5,461.5) scale(1,1.036)" d="M1.4,0 H6 V9.6 L4.6,11 H0 V1.4 Z"/><path transform="translate(116.5,461.5) scale(1,1.036)" stroke-width="2" stroke-linecap="butt" d="M0.9,10.2 L5.1,0.8"/>
<path transform="translate(136.5,461.5) scale(1,1.036)" d="M1.4,0 H6 V9.6 L4.6,11 H0 V1.4 Z"/><path transform="translate(136.5,461.5) scale(1,1.036)" stroke-width="2" stroke-linecap="butt" d="M0.9,10.2 L5.1,0.8"/>
<path transform="translate(147.5,461.5) scale(1,1.036)" d="M1.4,0 H6 V9.6 L4.6,11 H0 V1.4 Z"/><path transform="translate(147.5,461.5) scale(1,1.036)" stroke-width="2" stroke-linecap="butt" d="M0.9,10.2 L5.1,0.8"/>
<path transform="translate(157.5,461.5) scale(1,1.036)" d="M1.4,0 H6 V9.6 L4.6,11 H0 V1.4 Z"/><path transform="translate(157.5,461.5) scale(1,1.036)" stroke-width="2" stroke-linecap="butt" d="M0.9,10.2 L5.1,0.8"/>

<path transform="translate(178.5,461.5) scale(1,1.036)" d="M0,11 V0 L3,4 L6,0 V11"/>
<path transform="translate(188.5,461.5) scale(1,1.036)" d="M0,0 V11 M6,0 V11 M0,5 H6"/>
<path transform="translate(198.5,461.5) scale(1,1.036)" d="M0,4 H6 L0,11 H6"/>
<path transform="translate(456.5,461.5) scale(1,1.036)" d="M6,1 L5,0 H1 L0,1 V4 L1,5 H5 L6,6 V10 L5,11 H1 L0,10"/>
<path transform="translate(466.5,461.5) scale(1,1.036)" d="M2,0 V10 L3,11 H5 L6,10 M0,4 H5"/>
<path transform="translate(477.5,461.5) scale(1,1.036)" d="M1,4 H5 L6,5 V10 L5,11 H1 L0,10 V5 Z"/>
<path transform="translate(487.5,461.5) scale(1,1.036)" d="M0,4 V14 M0,4 H5 L6,5 V10 L5,11 H0"/>

<path transform="translate(507.5,461.5) scale(1,1.036)" d="M6,0 H0 V5 H5 L6,6 V10 L5,11 H1 L0,10"/>
<path transform="translate(518.5,461.5) scale(1,1.036)" d="M6,0 H0 V5 H5 L6,6 V10 L5,11 H1 L0,10"/>
<path transform="translate(528.5,461.5) scale(1,1.036)" d="M1.4,0 H6 V9.6 L4.6,11 H0 V1.4 Z"/><path transform="translate(528.5,461.5) scale(1,1.036)" stroke-width="2" stroke-linecap="butt" d="M0.9,10.2 L5.1,0.8"/>
<path transform="translate(548.5,461.5) scale(1,1.036)" d="M1.4,0 H6 V9.6 L4.6,11 H0 V1.4 Z"/><path transform="translate(548.5,461.5) scale(1,1.036)" stroke-width="2" stroke-linecap="butt" d="M0.9,10.2 L5.1,0.8"/>
<path transform="translate(559.5,461.5) scale(1,1.036)" d="M1.4,0 H6 V9.6 L4.6,11 H0 V1.4 Z"/><path transform="translate(559.5,461.5) scale(1,1.036)" stroke-width="2" stroke-linecap="butt" d="M0.9,10.2 L5.1,0.8"/>
<path transform="translate(569.5,461.5) scale(1,1.036)" d="M1.4,0 H6 V9.6 L4.6,11 H0 V1.4 Z"/><path transform="translate(569.5,461.5) scale(1,1.036)" stroke-width="2" stroke-linecap="butt" d="M0.9,10.2 L5.1,0.8"/>

<path transform="translate(590.5,461.5) scale(1,1.036)" d="M0,11 V0 L3,4 L6,0 V11"/>
<path transform="translate(600.5,461.5) scale(1,1.036)" d="M0,0 V11 M6,0 V11 M0,5 H6"/>
<path transform="translate(610.5,461.5) scale(1,1.036)" d="M0,4 H6 L0,11 H6"/>
<path transform="translate(46.5,498.5) scale(1,1.036)" d="M2,2 L4,0 V11 M2,11 H5.6"/>
<path transform="translate(66.5,498.5) scale(1,1.036)" d="M0,11 V0 L3,4 L6,0 V11"/>
<path transform="translate(77.5,498.5) scale(1,1.036)" d="M0,0 V11 M5,4 L0,8 M2,7 L6,11"/>
<path transform="translate(87.5,498.5) scale(1,1.036)" d="M0,4 V11 M0,6 L2,4 H5 L6,5"/>

<path transform="translate(107.5,498.5) scale(1,1.036)" d="M4,0 L2,2 V9 L4,11"/>
<path transform="translate(118.5,498.5) scale(1,1.036)" d="M0,11 V0 L3,4 L6,0 V11"/>
<path transform="translate(128.5,498.5) scale(1,1.036)" d="M0,0 V11 M6,0 V11 M0,5 H6"/>
<path transform="translate(138.5,498.5) scale(1,1.036)" d="M0,4 H6 L0,11 H6"/>
<path transform="translate(148.5,498.5) scale(1,1.036)" d="M2,0 L4,2 V9 L2,11"/>




<path transform="translate(200.5,498.5) scale(1,1.036)" d="M6,0 V11 H1 L0,10 V5 L1,4 H6"/>
<path transform="translate(210.5,498.5) scale(1,1.036)" d="M2,0 V11 M0,11 H5 L6,10 V6 L5,5 H2 M5,5 L6,4 V1 L5,0 H0"/>
<path transform="translate(46.5,517.5) scale(1,1.036)" d="M2,2 L4,0 V11 M2,11 H5.6"/>
<path transform="translate(56.5,517.5) scale(1,1.036)" d="M1,3 L5,6.5 L1,10"/>


<path transform="translate(87.5,517.5) scale(1,1.036)" d="M2,2 L4,0 V11 M2,11 H5.6"/>
<path transform="translate(97.5,517.5) scale(1,1.036)" d="M0,0 V7 H6 M3.8,1.5 V11"/>
<path transform="translate(108.5,517.5) scale(1,1.036)" d="M0,0 V7 H6 M3.8,1.5 V11"/>
<path transform="translate(128.5,517.5) scale(1,1.036)" d="M1.4,0 H6 V9.6 L4.6,11 H0 V1.4 Z"/><path transform="translate(128.5,517.5) scale(1,1.036)" stroke-width="2" stroke-linecap="butt" d="M0.9,10.2 L5.1,0.8"/>
<path transform="translate(138.5,517.5) scale(1,1.036)" d="M1.4,0 H6 V9.6 L4.6,11 H0 V1.4 Z"/><path transform="translate(138.5,517.5) scale(1,1.036)" stroke-width="2" stroke-linecap="butt" d="M0.9,10.2 L5.1,0.8"/>




<path transform="translate(190.5,517.5) scale(1,1.036)" d="M0,6 H6"/>
<path transform="translate(200.5,517.5) scale(1,1.036)" d="M1.4,0 H6 V9.6 L4.6,11 H0 V1.4 Z"/><path transform="translate(200.5,517.5) scale(1,1.036)" stroke-width="2" stroke-linecap="butt" d="M0.9,10.2 L5.1,0.8"/>
<path transform="translate(221.5,517.5) scale(1,1.036)" d="M1.4,0 H6 V9.6 L4.6,11 H0 V1.4 Z"/><path transform="translate(221.5,517.5) scale(1,1.036)" stroke-width="2" stroke-linecap="butt" d="M0.9,10.2 L5.1,0.8"/>
<path transform="translate(231.5,517.5) scale(1,1.036)" d="M0,0 V7 H6 M3.8,1.5 V11"/>
<path transform="translate(46.5,535.5) scale(1,1.036)" d="M0,2 V1 L1,0 H5 L6,1 V4 L0,10 V11 H6"/>


<path transform="translate(87.5,535.5) scale(1,1.036)" d="M2,2 L4,0 V11 M2,11 H5.6"/>
<path transform="translate(97.5,535.5) scale(1,1.036)" d="M0,0 V7 H6 M3.8,1.5 V11"/>
<path transform="translate(108.5,535.5) scale(1,1.036)" d="M4,0 L0,5 V10 L1,11 H5 L6,10 V6 L5,5 H1"/>
<path transform="translate(128.5,535.5) scale(1,1.036)" d="M1.4,0 H6 V9.6 L4.6,11 H0 V1.4 Z"/><path transform="translate(128.5,535.5) scale(1,1.036)" stroke-width="2" stroke-linecap="butt" d="M0.9,10.2 L5.1,0.8"/>
<path transform="translate(138.5,535.5) scale(1,1.036)" d="M1.4,0 H6 V9.6 L4.6,11 H0 V1.4 Z"/><path transform="translate(138.5,535.5) scale(1,1.036)" stroke-width="2" stroke-linecap="butt" d="M0.9,10.2 L5.1,0.8"/>




<path transform="translate(190.5,535.5) scale(1,1.036)" d="M0,6 H6"/>
<path transform="translate(200.5,535.5) scale(1,1.036)" d="M1.4,0 H6 V9.6 L4.6,11 H0 V1.4 Z"/><path transform="translate(200.5,535.5) scale(1,1.036)" stroke-width="2" stroke-linecap="butt" d="M0.9,10.2 L5.1,0.8"/>
<path transform="translate(221.5,535.5) scale(1,1.036)" d="M1.4,0 H6 V9.6 L4.6,11 H0 V1.4 Z"/><path transform="translate(221.5,535.5) scale(1,1.036)" stroke-width="2" stroke-linecap="butt" d="M0.9,10.2 L5.1,0.8"/>
<path transform="translate(231.5,535.5) scale(1,1.036)" d="M0,2 V1 L1,0 H5 L6,1 V4 L0,10 V11 H6"/>
<path transform="translate(46.5,553.5) scale(1,1.036)" d="M0,1 L1,0 H5 L6,1 V4 L5,5 H2 M5,5 L6,6 V10 L5,11 H1 L0,10"/>


<path transform="translate(87.5,553.5) scale(1,1.036)" d="M0,0 V7 H6 M3.8,1.5 V11"/>
<path transform="translate(97.5,553.5) scale(1,1.036)" d="M0,1 L1,0 H5 L6,1 V4 L5,5 H2 M5,5 L6,6 V10 L5,11 H1 L0,10"/>
<path transform="translate(108.5,553.5) scale(1,1.036)" d="M1.4,0 H6 V9.6 L4.6,11 H0 V1.4 Z"/><path transform="translate(108.5,553.5) scale(1,1.036)" stroke-width="2" stroke-linecap="butt" d="M0.9,10.2 L5.1,0.8"/>
<path transform="translate(128.5,553.5) scale(1,1.036)" d="M1.4,0 H6 V9.6 L4.6,11 H0 V1.4 Z"/><path transform="translate(128.5,553.5) scale(1,1.036)" stroke-width="2" stroke-linecap="butt" d="M0.9,10.2 L5.1,0.8"/>
<path transform="translate(138.5,553.5) scale(1,1.036)" d="M1.4,0 H6 V9.6 L4.6,11 H0 V1.4 Z"/><path transform="translate(138.5,553.5) scale(1,1.036)" stroke-width="2" stroke-linecap="butt" d="M0.9,10.2 L5.1,0.8"/>




<path transform="translate(190.5,553.5) scale(1,1.036)" d="M0,6 H6"/>
<path transform="translate(200.5,553.5) scale(1,1.036)" d="M1.5,0 H4.5 L5.5,1 V4 L4.5,5 H1.5 L0.5,4 V1 Z M1.5,5 L0,6 V10 L1,11 H5 L6,10 V6 L4.5,5"/>
<path transform="translate(221.5,553.5) scale(1,1.036)" d="M5,6 H1 L0,5 V1 L1,0 H5 L6,1 V6 L2,11"/>
<path transform="translate(231.5,553.5) scale(1,1.036)" d="M2,2 L4,0 V11 M2,11 H5.6"/>
<path transform="translate(46.5,570.5) scale(1,1.036)" d="M0,0 V7 H6 M3.8,1.5 V11"/>


<path transform="translate(87.5,570.5) scale(1,1.036)" d="M0,0 V7 H6 M3.8,1.5 V11"/>
<path transform="translate(97.5,570.5) scale(1,1.036)" d="M0,0 V7 H6 M3.8,1.5 V11"/>
<path transform="translate(108.5,570.5) scale(1,1.036)" d="M1.4,0 H6 V9.6 L4.6,11 H0 V1.4 Z"/><path transform="translate(108.5,570.5) scale(1,1.036)" stroke-width="2" stroke-linecap="butt" d="M0.9,10.2 L5.1,0.8"/>
<path transform="translate(128.5,570.5) scale(1,1.036)" d="M1.4,0 H6 V9.6 L4.6,11 H0 V1.4 Z"/><path transform="translate(128.5,570.5) scale(1,1.036)" stroke-width="2" stroke-linecap="butt" d="M0.9,10.2 L5.1,0.8"/>
<path transform="translate(138.5,570.5) scale(1,1.036)" d="M1.4,0 H6 V9.6 L4.6,11 H0 V1.4 Z"/><path transform="translate(138.5,570.5) scale(1,1.036)" stroke-width="2" stroke-linecap="butt" d="M0.9,10.2 L5.1,0.8"/>



<path transform="translate(180.5,570.5) scale(1,1.036)" d="M0,6 H6"/>
<path transform="translate(190.5,570.5) scale(1,1.036)" d="M2,2 L4,0 V11 M2,11 H5.6"/>
<path transform="translate(200.5,570.5) scale(1,1.036)" d="M0,0 V7 H6 M3.8,1.5 V11"/>
<path transform="translate(221.5,570.5) scale(1,1.036)" d="M2,2 L4,0 V11 M2,11 H5.6"/>
<path transform="translate(231.5,570.5) scale(1,1.036)" d="M0,0 V7 H6 M3.8,1.5 V11"/>
<path transform="translate(329.5,498.5) scale(1,1.036)" d="M0,2 V1 L1,0 H5 L6,1 V4 L0,10 V11 H6"/>
<path transform="translate(350.5,498.5) scale(1,1.036)" d="M0,11 V0 L3,4 L6,0 V11"/>
<path transform="translate(360.5,498.5) scale(1,1.036)" d="M0,0 V11 M5,4 L0,8 M2,7 L6,11"/>
<path transform="translate(370.5,498.5) scale(1,1.036)" d="M0,4 V11 M0,6 L2,4 H5 L6,5"/>

<path transform="translate(391.5,498.5) scale(1,1.036)" d="M4,0 L2,2 V9 L4,11"/>
<path transform="translate(401.5,498.5) scale(1,1.036)" d="M0,11 V0 L3,4 L6,0 V11"/>
<path transform="translate(411.5,498.5) scale(1,1.036)" d="M0,0 V11 M6,0 V11 M0,5 H6"/>
<path transform="translate(421.5,498.5) scale(1,1.036)" d="M0,4 H6 L0,11 H6"/>
<path transform="translate(432.5,498.5) scale(1,1.036)" d="M2,0 L4,2 V9 L2,11"/>




<path transform="translate(483.5,498.5) scale(1,1.036)" d="M6,0 V11 H1 L0,10 V5 L1,4 H6"/>
<path transform="translate(493.5,498.5) scale(1,1.036)" d="M2,0 V11 M0,11 H5 L6,10 V6 L5,5 H2 M5,5 L6,4 V1 L5,0 H0"/>
<path transform="translate(329.5,517.5) scale(1,1.036)" d="M2,2 L4,0 V11 M2,11 H5.6"/>


<path transform="translate(370.5,517.5) scale(1,1.036)" d="M2,2 L4,0 V11 M2,11 H5.6"/>
<path transform="translate(381.5,517.5) scale(1,1.036)" d="M0,0 V7 H6 M3.8,1.5 V11"/>
<path transform="translate(391.5,517.5) scale(1,1.036)" d="M0,0 V7 H6 M3.8,1.5 V11"/>
<path transform="translate(412.5,517.5) scale(1,1.036)" d="M1.4,0 H6 V9.6 L4.6,11 H0 V1.4 Z"/><path transform="translate(412.5,517.5) scale(1,1.036)" stroke-width="2" stroke-linecap="butt" d="M0.9,10.2 L5.1,0.8"/>
<path transform="translate(422.5,517.5) scale(1,1.036)" d="M1.4,0 H6 V9.6 L4.6,11 H0 V1.4 Z"/><path transform="translate(422.5,517.5) scale(1,1.036)" stroke-width="2" stroke-linecap="butt" d="M0.9,10.2 L5.1,0.8"/>



<path transform="translate(463.5,517.5) scale(1,1.036)" d="M0,6 H6"/>
<path transform="translate(473.5,517.5) scale(1,1.036)" d="M2,2 L4,0 V11 M2,11 H5.6"/>
<path transform="translate(483.5,517.5) scale(1,1.036)" d="M5,6 H1 L0,5 V1 L1,0 H5 L6,1 V6 L2,11"/>
<path transform="translate(504.5,517.5) scale(1,1.036)" d="M0,0 H6 V1 L3,9 V11"/>
<path transform="translate(514.5,517.5) scale(1,1.036)" d="M0,0 H6 V1 L3,9 V11"/>
<path transform="translate(329.5,535.5) scale(1,1.036)" d="M0,2 V1 L1,0 H5 L6,1 V4 L0,10 V11 H6"/>


<path transform="translate(370.5,535.5) scale(1,1.036)" d="M2,2 L4,0 V11 M2,11 H5.6"/>
<path transform="translate(381.5,535.5) scale(1,1.036)" d="M0,0 V7 H6 M3.8,1.5 V11"/>
<path transform="translate(391.5,535.5) scale(1,1.036)" d="M4,0 L0,5 V10 L1,11 H5 L6,10 V6 L5,5 H1"/>
<path transform="translate(412.5,535.5) scale(1,1.036)" d="M1.4,0 H6 V9.6 L4.6,11 H0 V1.4 Z"/><path transform="translate(412.5,535.5) scale(1,1.036)" stroke-width="2" stroke-linecap="butt" d="M0.9,10.2 L5.1,0.8"/>
<path transform="translate(422.5,535.5) scale(1,1.036)" d="M1.4,0 H6 V9.6 L4.6,11 H0 V1.4 Z"/><path transform="translate(422.5,535.5) scale(1,1.036)" stroke-width="2" stroke-linecap="butt" d="M0.9,10.2 L5.1,0.8"/>



<path transform="translate(463.5,535.5) scale(1,1.036)" d="M0,6 H6"/>
<path transform="translate(473.5,535.5) scale(1,1.036)" d="M2,2 L4,0 V11 M2,11 H5.6"/>
<path transform="translate(483.5,535.5) scale(1,1.036)" d="M5,6 H1 L0,5 V1 L1,0 H5 L6,1 V6 L2,11"/>
<path transform="translate(504.5,535.5) scale(1,1.036)" d="M5,6 H1 L0,5 V1 L1,0 H5 L6,1 V6 L2,11"/>
<path transform="translate(514.5,535.5) scale(1,1.036)" d="M0,1 L1,0 H5 L6,1 V4 L5,5 H2 M5,5 L6,6 V10 L5,11 H1 L0,10"/>
<path transform="translate(329.5,553.5) scale(1,1.036)" d="M0,1 L1,0 H5 L6,1 V4 L5,5 H2 M5,5 L6,6 V10 L5,11 H1 L0,10"/>


<path transform="translate(370.5,553.5) scale(1,1.036)" d="M0,0 V7 H6 M3.8,1.5 V11"/>
<path transform="translate(381.5,553.5) scale(1,1.036)" d="M0,1 L1,0 H5 L6,1 V4 L5,5 H2 M5,5 L6,6 V10 L5,11 H1 L0,10"/>
<path transform="translate(391.5,553.5) scale(1,1.036)" d="M1.4,0 H6 V9.6 L4.6,11 H0 V1.4 Z"/><path transform="translate(391.5,553.5) scale(1,1.036)" stroke-width="2" stroke-linecap="butt" d="M0.9,10.2 L5.1,0.8"/>
<path transform="translate(412.5,553.5) scale(1,1.036)" d="M1.4,0 H6 V9.6 L4.6,11 H0 V1.4 Z"/><path transform="translate(412.5,553.5) scale(1,1.036)" stroke-width="2" stroke-linecap="butt" d="M0.9,10.2 L5.1,0.8"/>
<path transform="translate(422.5,553.5) scale(1,1.036)" d="M1.4,0 H6 V9.6 L4.6,11 H0 V1.4 Z"/><path transform="translate(422.5,553.5) scale(1,1.036)" stroke-width="2" stroke-linecap="butt" d="M0.9,10.2 L5.1,0.8"/>




<path transform="translate(473.5,553.5) scale(1,1.036)" d="M0,6 H6"/>
<path transform="translate(483.5,553.5) scale(1,1.036)" d="M1.4,0 H6 V9.6 L4.6,11 H0 V1.4 Z"/><path transform="translate(483.5,553.5) scale(1,1.036)" stroke-width="2" stroke-linecap="butt" d="M0.9,10.2 L5.1,0.8"/>
<path transform="translate(504.5,553.5) scale(1,1.036)" d="M0,0 H6 V1 L3,9 V11"/>
<path transform="translate(514.5,553.5) scale(1,1.036)" d="M1.4,0 H6 V9.6 L4.6,11 H0 V1.4 Z"/><path transform="translate(514.5,553.5) scale(1,1.036)" stroke-width="2" stroke-linecap="butt" d="M0.9,10.2 L5.1,0.8"/>
<path transform="translate(329.5,570.5) scale(1,1.036)" d="M0,0 V7 H6 M3.8,1.5 V11"/>
<path transform="translate(340.5,570.5) scale(1,1.036)" d="M1,3 L5,6.5 L1,10"/>


<path transform="translate(370.5,570.5) scale(1,1.036)" d="M0,0 V7 H6 M3.8,1.5 V11"/>
<path transform="translate(381.5,570.5) scale(1,1.036)" d="M0,0 V7 H6 M3.8,1.5 V11"/>
<path transform="translate(391.5,570.5) scale(1,1.036)" d="M1.4,0 H6 V9.6 L4.6,11 H0 V1.4 Z"/><path transform="translate(391.5,570.5) scale(1,1.036)" stroke-width="2" stroke-linecap="butt" d="M0.9,10.2 L5.1,0.8"/>
<path transform="translate(412.5,570.5) scale(1,1.036)" d="M1.4,0 H6 V9.6 L4.6,11 H0 V1.4 Z"/><path transform="translate(412.5,570.5) scale(1,1.036)" stroke-width="2" stroke-linecap="butt" d="M0.9,10.2 L5.1,0.8"/>
<path transform="translate(422.5,570.5) scale(1,1.036)" d="M1.4,0 H6 V9.6 L4.6,11 H0 V1.4 Z"/><path transform="translate(422.5,570.5) scale(1,1.036)" stroke-width="2" stroke-linecap="butt" d="M0.9,10.2 L5.1,0.8"/>




<path transform="translate(473.5,570.5) scale(1,1.036)" d="M0,6 H6"/>
<path transform="translate(483.5,570.5) scale(1,1.036)" d="M1.4,0 H6 V9.6 L4.6,11 H0 V1.4 Z"/><path transform="translate(483.5,570.5) scale(1,1.036)" stroke-width="2" stroke-linecap="butt" d="M0.9,10.2 L5.1,0.8"/>
<path transform="translate(504.5,570.5) scale(1,1.036)" d="M0,2 V1 L1,0 H5 L6,1 V4 L0,10 V11 H6"/>
<path transform="translate(514.5,570.5) scale(1,1.036)" d="M1.4,0 H6 V9.6 L4.6,11 H0 V1.4 Z"/><path transform="translate(514.5,570.5) scale(1,1.036)" stroke-width="2" stroke-linecap="butt" d="M0.9,10.2 L5.1,0.8"/>
<path transform="translate(614.5,79.8) scale(1,1.036)" d="M0,2.5 V1.5 L1.5,0 H5.5 L7,1.5 V4.5 L0,11 V12 H7"/>
<path transform="translate(616.5,288.1) scale(1,1.036)" d="M0,1.3 L2,0.3 M2,0 V11 M0,11 H4"/>
<path transform="translate(147.5,55.5) scale(1,1.036)" d="M2,2 L4,0 V11 M2,11 H5.6"/>
<path transform="translate(149.5,104.5) scale(1,1.036)" d="M0,2 V1 L1,0 H5 L6,1 V4 L0,10 V11 H6"/>
<path transform="translate(474.5,141.5) scale(1,1.036)" d="M0,0.5 L0.5,0 H4 L5,1 V4 L4,5 H2 M4,5 L5,6 V10 L4,11 H0.5 L0,10.5"/>
<path transform="translate(483.5,161.5) scale(1,1.036)" d="M0,0 V7.5 H6.5 M5,1.7 V12"/>
<path transform="translate(148.5,268.5) scale(1,1.036)" d="M2,2 L4,0 V11 M2,11 H5.6"/>
<path transform="translate(150.5,268.5) scale(1,1.036)" d="M0,2 V1 L1,0 H5 L6,1 V4 L0,10 V11 H6"/>
<path transform="translate(474.5,110.5) scale(1,1.036)" d="M0,0.5 L0.5,0 H4 L5,1 V4 L4,5 H2 M4,5 L5,6 V10 L4,11 H0.5 L0,10.5"/>
<path transform="translate(483.5,55.5) scale(1,1.036)" d="M0,0 V7.5 H6.5 M5,1.7 V12"/>
</g>
<g fill="#000" stroke="none"><rect x="64.9" y="8.4" width="2.3" height="2.3"/><rect x="64.9" y="14.4" width="2.3" height="2.3"/><rect x="353.9" y="14.7" width="2.3" height="2.3"/><rect x="503.9" y="14.7" width="2.3" height="2.3"/><rect x="64.9" y="27.4" width="2.3" height="2.3"/><rect x="64.9" y="33.4" width="2.3" height="2.3"/><rect x="353.9" y="33.7" width="2.3" height="2.3"/><rect x="503.9" y="33.7" width="2.3" height="2.3"/><rect x="75.9" y="77.7" width="2.3" height="2.3"/><rect x="157.9" y="77.7" width="2.3" height="2.3"/><rect x="218.9" y="77.7" width="2.3" height="2.3"/><rect x="433.9" y="53.4" width="2.3" height="2.3"/><rect x="433.9" y="59.4" width="2.3" height="2.3"/><rect x="536.9" y="59.7" width="2.3" height="2.3"/><rect x="533.9" y="78.7" width="2.3" height="2.3"/><rect x="433.9" y="94.4" width="2.3" height="2.3"/><rect x="433.9" y="100.4" width="2.3" height="2.3"/><rect x="536.9" y="100.7" width="2.3" height="2.3"/><rect x="533.9" y="119.7" width="2.3" height="2.3"/><rect x="126.9" y="470.7" width="2.3" height="2.3"/><rect x="538.9" y="470.7" width="2.3" height="2.3"/><rect x="56.9" y="501.4" width="2.3" height="2.3"/><rect x="56.9" y="507.4" width="2.3" height="2.3"/><rect x="118.9" y="526.7" width="2.3" height="2.3"/><rect x="210.9" y="526.7" width="2.3" height="2.3"/><rect x="56.9" y="538.4" width="2.3" height="2.3"/><rect x="56.9" y="544.4" width="2.3" height="2.3"/><rect x="118.9" y="544.7" width="2.3" height="2.3"/><rect x="210.9" y="544.7" width="2.3" height="2.3"/><rect x="56.9" y="556.4" width="2.3" height="2.3"/><rect x="56.9" y="562.4" width="2.3" height="2.3"/><rect x="118.9" y="562.7" width="2.3" height="2.3"/><rect x="210.9" y="562.7" width="2.3" height="2.3"/><rect x="56.9" y="573.4" width="2.3" height="2.3"/><rect x="56.9" y="579.4" width="2.3" height="2.3"/><rect x="118.9" y="579.7" width="2.3" height="2.3"/><rect x="210.9" y="579.7" width="2.3" height="2.3"/><rect x="339.9" y="501.4" width="2.3" height="2.3"/><rect x="339.9" y="507.4" width="2.3" height="2.3"/><rect x="340.9" y="520.4" width="2.3" height="2.3"/><rect x="340.9" y="526.4" width="2.3" height="2.3"/><rect x="401.9" y="526.7" width="2.3" height="2.3"/><rect x="494.9" y="526.7" width="2.3" height="2.3"/><rect x="340.9" y="538.4" width="2.3" height="2.3"/><rect x="340.9" y="544.4" width="2.3" height="2.3"/><rect x="401.9" y="544.7" width="2.3" height="2.3"/><rect x="494.9" y="544.7" width="2.3" height="2.3"/><rect x="340.9" y="556.4" width="2.3" height="2.3"/><rect x="340.9" y="562.4" width="2.3" height="2.3"/><rect x="401.9" y="562.7" width="2.3" height="2.3"/><rect x="494.9" y="562.7" width="2.3" height="2.3"/><rect x="401.9" y="579.7" width="2.3" height="2.3"/><rect x="494.9" y="579.7" width="2.3" height="2.3"/></g>
</svg>
</body></html>
